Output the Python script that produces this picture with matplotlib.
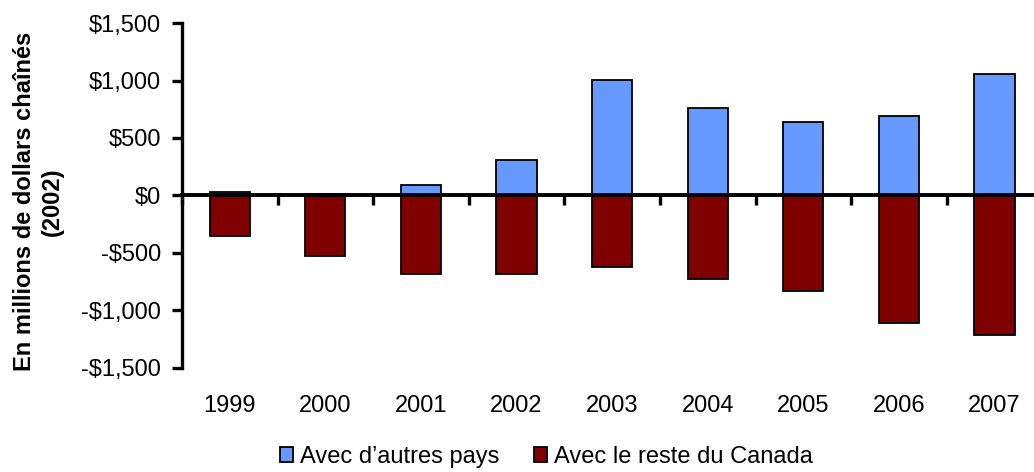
import numpy as np
import matplotlib.pyplot as plt
import matplotlib.transforms as mtransforms
from matplotlib.patches import Patch

plt.rcParams['font.family'] = ['Liberation Sans', 'DejaVu Sans']

years = ['1999', '2000', '2001', '2002', '2003', '2004', '2005', '2006', '2007']
autres_pays = [30, 15, 87, 311, 1003, 765, 643, 695, 1060]
reste_canada = [-354, -528, -682, -682, -626, -730, -832, -1113, -1218]
yticks = [-1500, -1000, -500, 0, 500, 1000, 1500]
ytick_labels = ['-$1,500', '-$1,000', '-$500', '$0', '$500', '$1,000', '$1,500']

blue = '#6699FF'
red = '#800000'

fig = plt.figure(figsize=(10.34, 4.72), dpi=100)
ax = fig.add_axes([0.176, 0.221, 0.832, 0.730])

x = np.arange(len(years))
ax.bar(x, autres_pays, width=0.42, color=blue, edgecolor='black', linewidth=1.3, zorder=2)
ax.bar(x, reste_canada, width=0.42, color=red, edgecolor='black', linewidth=1.3, zorder=2)

ax.set_xlim(-0.5, len(years) - 0.5)
ax.set_ylim(-1500, 1500)
ax.set_yticks(yticks)
ax.set_yticklabels(ytick_labels, fontsize=17)

ax.spines['top'].set_visible(False)
ax.spines['right'].set_visible(False)
ax.spines['bottom'].set_position(('data', 0))
ax.spines['bottom'].set_linewidth(2.8)
ax.spines['bottom'].set_zorder(3)
ax.spines['left'].set_linewidth(2.4)

# category boundary ticks hang below the zero line
ax.set_xticks(np.arange(-0.5, len(years), 1))
ax.set_xticklabels([])
ax.tick_params(axis='x', direction='out', length=7, width=2.4)
ax.tick_params(axis='y', direction='out', length=7, width=2.4, pad=8)

# year labels sit under the plot area, not at the zero line
trans = mtransforms.blended_transform_factory(ax.transData, ax.transAxes)
for xi, yr in zip(x, years):
    ax.text(xi, -0.11, yr, transform=trans, ha='center', va='center', fontsize=17)

fig.text(0.024, 0.573, 'En millions de dollars chaînés', rotation=90,
         ha='center', va='center', fontsize=17, fontweight='bold')
fig.text(0.051, 0.573, '(2002)', rotation=90,
         ha='center', va='center', fontsize=17, fontweight='bold')

handles = [Patch(facecolor=blue, edgecolor='black', linewidth=1.3, label="Avec d\u2019autres pays"),
           Patch(facecolor=red, edgecolor='black', linewidth=1.3, label='Avec le reste du Canada')]
fig.legend(handles=handles, loc='center', bbox_to_anchor=(0.5285, 0.032), ncol=2,
           frameon=False, fontsize=17, handlelength=0.55, handleheight=0.55,
           handletextpad=0.3, columnspacing=1.5, borderpad=0)

fig.savefig('out.png', dpi=100)
